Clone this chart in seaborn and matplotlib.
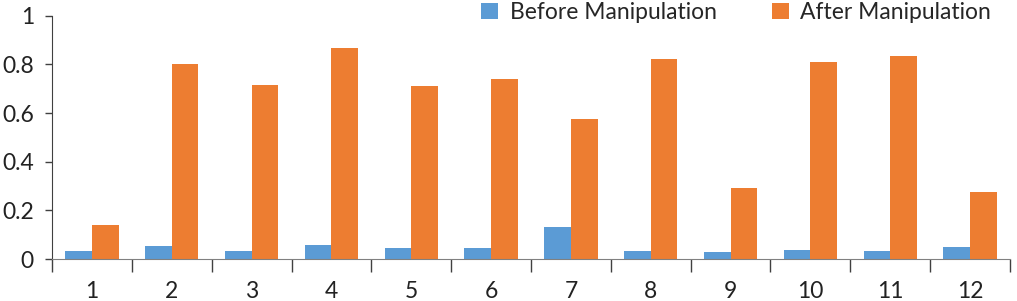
import seaborn as sns
import pandas as pd
import matplotlib.pyplot as plt
from matplotlib.ticker import FixedLocator

# data
trials = ['1', '2', '3', '4', '5', '6', '7', '8', '9', '10', '11', '12']
before = [0.034, 0.052, 0.034, 0.056, 0.045, 0.045, 0.13, 0.032, 0.027, 0.038, 0.032, 0.049]
after = [0.14, 0.80, 0.716, 0.868, 0.712, 0.738, 0.574, 0.82, 0.292, 0.808, 0.836, 0.274]

df = pd.DataFrame({'trial': trials, 'Before Manipulation': before,
                   'After Manipulation': after})
df_m = pd.melt(df, id_vars='trial', var_name='phase', value_name='value')

sns.set_style('white')
plt.rcParams['font.family'] = ['Lato', 'DejaVu Sans']

pal = ['#5B9BD5', '#ED7D31']
f = plt.figure(figsize=(10.17, 3.01), dpi=100)
ax = f.add_axes([52 / 1017, 1 - 259 / 301, 958 / 1017, (259 - 15.7) / 301])

sns.barplot(data=df_m, x='trial', y='value', hue='phase', palette=pal,
            width=0.67, saturation=1, linewidth=0, ax=ax, legend=True)
ax.set_xlim(-0.5, len(trials) - 0.5)
ax.set_ylim(0, 1)
ax.set_yticks([0, 0.2, 0.4, 0.6, 0.8, 1])
ax.set_yticklabels(['0', '0.2', '0.4', '0.6', '0.8', '1'])
ax.set_xlabel('')
ax.set_ylabel('')

# category boundaries get the tick marks, labels sit at the centers
ax.xaxis.set_minor_locator(FixedLocator([i - 0.5 for i in range(len(trials) + 1)]))
ax.tick_params(axis='x', which='major', length=0, labelsize=16.5, pad=16, colors='#222222')
ax.tick_params(axis='x', which='minor', length=9, width=1, color='#404040', bottom=True)
ax.tick_params(axis='y', which='major', length=5, width=1, color='#404040',
               left=True, labelsize=16.5, pad=8, labelcolor='#222222')

sns.despine(ax=ax)
ax.spines['left'].set_color('#404040')
ax.spines['bottom'].set_color('#808080')

handles, labels = ax.get_legend_handles_labels()
ax.legend(handles, labels, loc='upper left', bbox_to_anchor=(481 / 1017, 1 - 2 / 301),
          bbox_transform=f.transFigure, ncol=2, frameon=False, fontsize=16.5,
          handlelength=0.75, handleheight=0.75, handletextpad=0.5,
          columnspacing=2.4, borderpad=0, borderaxespad=0)

f.savefig('out.png', dpi=100)
